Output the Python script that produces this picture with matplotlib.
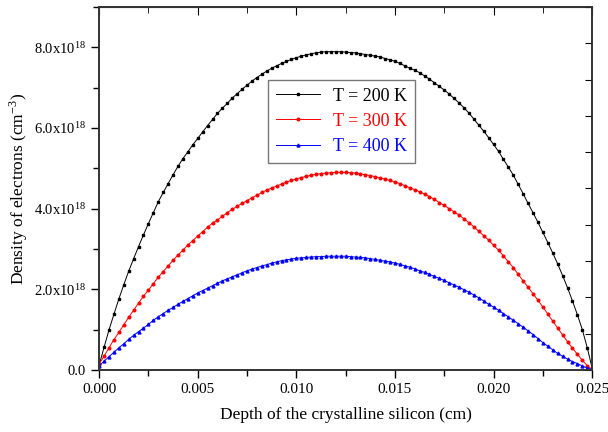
import numpy as np
import matplotlib
matplotlib.use("Agg")
import matplotlib.pyplot as plt
from matplotlib.ticker import MultipleLocator, FuncFormatter

plt.rcParams['font.family'] = ['Liberation Serif', 'DejaVu Serif']
plt.rcParams['mathtext.fontset'] = 'stix'

# depth grid (cm), one point every 0.00025 cm
depth = np.linspace(0.0, 0.025, 101)

# electron density, units of 1e18 cm^-3
n_200 = [0.12, 0.56, 0.99, 1.38, 1.76, 2.11, 2.45, 2.76, 3.06, 3.35,
         3.63, 3.90, 4.17, 4.40, 4.62, 4.84, 5.05, 5.24, 5.41, 5.58,
         5.74, 5.90, 6.06, 6.21, 6.36, 6.49, 6.61, 6.74, 6.85, 6.96,
         7.06, 7.16, 7.25, 7.33, 7.41, 7.48, 7.54, 7.60, 7.65, 7.70,
         7.74, 7.78, 7.81, 7.84, 7.86, 7.88, 7.89, 7.89, 7.89, 7.89,
         7.88, 7.87, 7.86, 7.84, 7.82, 7.80, 7.78, 7.76, 7.72, 7.69,
         7.65, 7.60, 7.54, 7.48, 7.43, 7.37, 7.29, 7.21, 7.12, 7.03,
         6.94, 6.84, 6.73, 6.62, 6.50, 6.37, 6.22, 6.07, 5.92, 5.76,
         5.59, 5.42, 5.22, 5.03, 4.83, 4.60, 4.37, 4.13, 3.90, 3.66,
         3.41, 3.16, 2.90, 2.63, 2.34, 2.04, 1.71, 1.37, 1.00, 0.55,
         0.04]
n_300 = [0.15, 0.34, 0.55, 0.75, 0.93, 1.12, 1.31, 1.48, 1.66, 1.83,
         1.98, 2.14, 2.30, 2.44, 2.58, 2.72, 2.85, 2.97, 3.10, 3.21,
         3.32, 3.43, 3.54, 3.64, 3.72, 3.81, 3.90, 3.98, 4.06, 4.13,
         4.20, 4.27, 4.33, 4.40, 4.46, 4.51, 4.56, 4.61, 4.66, 4.70,
         4.74, 4.77, 4.80, 4.83, 4.85, 4.87, 4.88, 4.89, 4.90, 4.90,
         4.90, 4.89, 4.88, 4.86, 4.84, 4.82, 4.79, 4.76, 4.73, 4.70,
         4.66, 4.62, 4.57, 4.52, 4.47, 4.42, 4.36, 4.30, 4.23, 4.15,
         4.08, 4.00, 3.92, 3.84, 3.75, 3.65, 3.55, 3.44, 3.33, 3.22,
         3.09, 2.97, 2.83, 2.68, 2.54, 2.37, 2.21, 2.05, 1.89, 1.73,
         1.56, 1.39, 1.21, 1.04, 0.87, 0.70, 0.54, 0.39, 0.24, 0.11,
         0.01]
n_400 = [0.10, 0.22, 0.33, 0.44, 0.55, 0.65, 0.76, 0.86, 0.95, 1.04,
         1.13, 1.23, 1.32, 1.40, 1.48, 1.55, 1.63, 1.70, 1.77, 1.84,
         1.91, 1.97, 2.03, 2.09, 2.15, 2.21, 2.26, 2.31, 2.36, 2.41,
         2.46, 2.50, 2.54, 2.58, 2.61, 2.65, 2.68, 2.71, 2.73, 2.75,
         2.77, 2.78, 2.79, 2.80, 2.81, 2.81, 2.82, 2.82, 2.82, 2.82,
         2.82, 2.81, 2.80, 2.79, 2.78, 2.76, 2.74, 2.72, 2.70, 2.68,
         2.65, 2.62, 2.58, 2.55, 2.51, 2.46, 2.42, 2.37, 2.32, 2.27,
         2.22, 2.16, 2.11, 2.05, 1.99, 1.93, 1.86, 1.79, 1.71, 1.63,
         1.56, 1.48, 1.40, 1.32, 1.23, 1.15, 1.06, 0.97, 0.88, 0.78,
         0.68, 0.59, 0.50, 0.41, 0.34, 0.27, 0.21, 0.16, 0.10, 0.05,
         0.01]

labels = ["T = 200 K", "T = 300 K", "T = 400 K"]
colors = ["black", "red", "blue"]
markers = ["s", "o", "^"]
msizes = [1.7, 1.9, 2.1]

fig = plt.figure(figsize=(6.08, 4.32), dpi=100)
ax = fig.add_axes([0.163, 0.1435, 0.811, 0.8405])

for vals, lab, c, m, ms in zip([n_200, n_300, n_400], labels, colors, markers, msizes):
    ax.plot(depth, np.array(vals) * 1e18, color=c, marker=m, markersize=ms,
            linewidth=0.7, label=lab)

ax.set_xlim(0, 0.025)
ax.set_ylim(0, 9e18)

ax.xaxis.set_major_locator(MultipleLocator(0.005))
ax.xaxis.set_minor_locator(MultipleLocator(0.0025))
ax.yaxis.set_major_locator(MultipleLocator(2e18))
ax.yaxis.set_minor_locator(MultipleLocator(1e18))
ax.xaxis.set_major_formatter(FuncFormatter(lambda v, p: "%.3f" % v))

def yfmt(v, p):
    if v == 0:
        return "0.0"
    return r"$\mathregular{%.1fx10^{18}}$" % (v / 1e18)

ax.yaxis.set_major_formatter(FuncFormatter(yfmt))

ax.tick_params(which='both', direction='out', width=1, top=False)
ax.tick_params(axis='x', labelsize=11)
ax.tick_params(axis='y', labelsize=10.5)
ax.tick_params(which='major', length=6)
ax.tick_params(which='minor', length=4)

# top ticks point inwards, bottom outwards
secx = ax.secondary_xaxis('top')
secx.xaxis.set_major_locator(MultipleLocator(0.005))
secx.xaxis.set_minor_locator(MultipleLocator(0.0025))
secx.tick_params(which='both', direction='in', labeltop=False)
secx.tick_params(which='major', length=6)
secx.tick_params(which='minor', length=4)

# right axis with its own inward ticks
ax2 = ax.twinx()
ax2.set_ylim(0, 9e18)
ax2.yaxis.set_major_locator(MultipleLocator(0.9e18))
ax2.tick_params(direction='in', length=5, labelright=False)
ax2.yaxis.set_minor_locator(plt.NullLocator())

for a in [ax, ax2]:
    for s in a.spines.values():
        s.set_color('#333333')
        s.set_linewidth(1.2)

ax.set_xlabel("Depth of the crystalline silicon (cm)", fontsize=12.5, labelpad=8)
ax.set_ylabel(r"Density of electrons (cm$^{\mathregular{-3}}$)", fontsize=12.5, labelpad=3)

leg = ax.legend(loc='upper left', bbox_to_anchor=(0.343, 0.80), fontsize=13,
                frameon=True, fancybox=False, edgecolor='#555555',
                handlelength=2.4, handletextpad=0.75, labelspacing=0.45,
                borderpad=0.45, borderaxespad=0)
leg.get_frame().set_linewidth(1.0)
for txt, c in zip(leg.get_texts(), colors):
    txt.set_color(c)

plt.savefig("out.png", dpi=100)
